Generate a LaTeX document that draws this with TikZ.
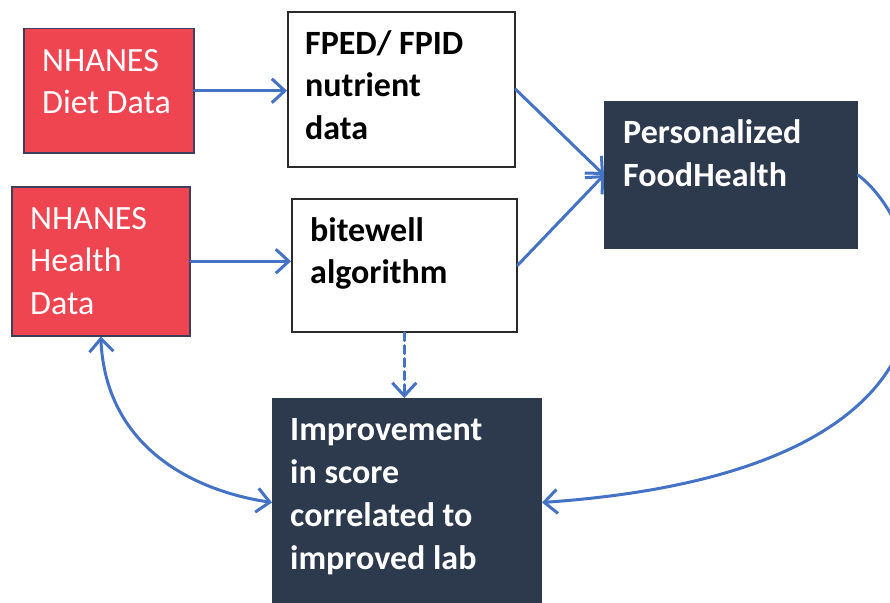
\documentclass[tikz,border=0pt]{standalone}
\usepackage{fontspec}
\setmainfont{Carlito}
\usetikzlibrary{arrows.meta}
\definecolor{boxred}{HTML}{EF4551}
\definecolor{rededge}{HTML}{3B3F5C}
\definecolor{navy}{HTML}{2D3A4E}
\definecolor{arrowblue}{HTML}{4472C4}
\definecolor{greyedge}{HTML}{2B2B2B}
\tikzset{
  redbox/.style={draw=rededge, line width=1.5pt, fill=boxred, rectangle, inner sep=0pt, anchor=north west},
  whitebox/.style={draw=greyedge, line width=1.6pt, fill=white, rectangle, inner sep=0pt, anchor=north west},
  darkbox/.style={draw=navy, line width=1pt, fill=navy, rectangle, inner sep=0pt, anchor=north west},
  txt/.style={inner sep=0pt, anchor=base west, align=flush left, text width=260pt, font=\fontsize{34}{42.5}\selectfont},
  whitetxt/.style={txt, text=white},
  boldwhite/.style={txt, text=white, font=\fontsize{34}{43}\selectfont\bfseries},
  boldblack/.style={txt, text=black, font=\fontsize{34}{42}\selectfont\bfseries},
  conn/.style={draw=arrowblue, line width=3pt, line cap=round, line join=round,
    -{Straight Barb[length=13pt,width=24pt,line width=3pt]}},
  dconn/.style={conn, dash pattern=on 8pt off 5pt},
  biconn/.style={conn, {Straight Barb[length=13pt,width=24pt,line width=3pt]}-{Straight Barb[length=13pt,width=24pt,line width=3pt]}}
}
\begin{document}
\begin{tikzpicture}[x=1pt,y=-1pt]
\useasboundingbox (0,0) rectangle (890,602);
\clip (0,0) rectangle (890,602);
% boxes
\node[redbox, minimum width=170pt, minimum height=124pt] (diet) at (23,28) {};
\node[whitebox, minimum width=227pt, minimum height=155pt] (fped) at (287,11) {};
\node[redbox, minimum width=178pt, minimum height=149pt] (health) at (11,186) {};
\node[whitebox, minimum width=225pt, minimum height=133pt] (bite) at (291,198) {};
\node[darkbox, minimum width=253pt, minimum height=147pt] (pers) at (604,101) {};
\node[darkbox, minimum width=269pt, minimum height=208pt] (impr) at (272,398) {};
% texts
\node[whitetxt] (diett) at (42,71) {NHANES\\Diet Data};
\node[boldblack] (fpedt) at (305,55) {FPED/ FPID\\nutrient\\data};
\node[whitetxt] (healtht) at (30,229) {NHANES\\Health\\Data};
\node[boldblack] (bitet) at (310,241) {bitewell\\algorithm};
\node[boldwhite] (perst) at (623,143) {Personalized\\FoodHealth};
\node[boldwhite] (imprt) at (290,440) {Improvement\\in score\\correlated to\\improved lab};
% connectors
\draw[conn] (diet.east) -- (diet.east -| fped.west);
\draw[conn] (health.east) -- (health.east -| bite.west);
\draw[conn] (fped.east) -- (pers.west);
\draw[conn] (bite.east) -- (pers.west);
\draw[dconn] (bite.south) -- (bite.south |- impr.north);
\draw[conn] (pers.east) .. controls +(73,55) and +(460,-32) .. (impr.east);
\draw[biconn] (health.south) .. controls +(5,110) and +(-80,-12) .. (impr.west);
\end{tikzpicture}
\end{document}
